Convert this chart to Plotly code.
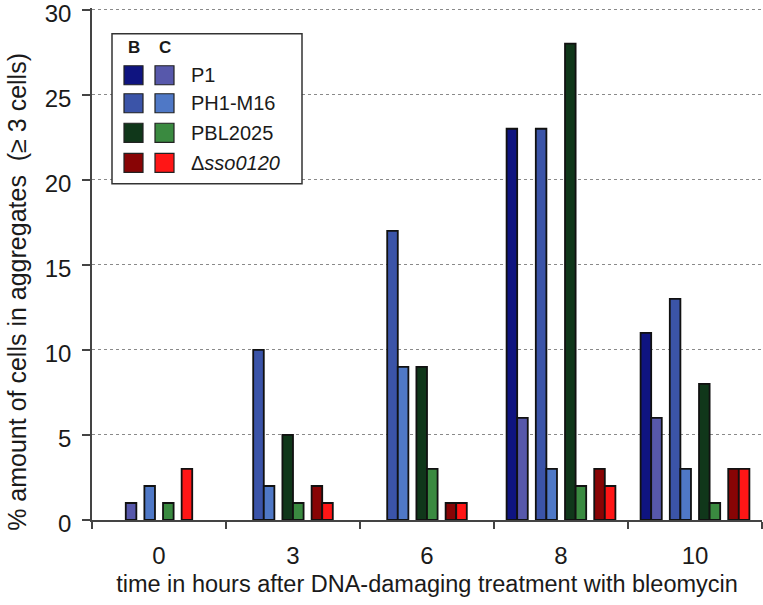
import plotly.graph_objects as go

# ---- data ----
times = ["0", "3", "6", "8", "10"]
strains = ["P1", "PH1-M16", "PBL2025", "Δ<i>sso0120</i>"]

p1_b = [None, None, None, 23, 11]
p1_c = [1, None, None, 6, 6]
ph1_b = [None, 10, 17, 23, 13]
ph1_c = [2, 2, 9, 3, 3]
pbl_b = [None, 5, 9, 28, 8]
pbl_c = [1, 1, 3, 2, 1]
dsso_b = [None, 2, 1, 3, 3]
dsso_c = [3, 1, 1, 2, 3]

y_ticks = [0, 5, 10, 15, 20, 25, 30]

# ---- styling ----
colors = {
    ("P1", "B"): "#0f1480",
    ("P1", "C"): "#5758ab",
    ("PH1-M16", "B"): "#3b54a8",
    ("PH1-M16", "C"): "#4f78c6",
    ("PBL2025", "B"): "#10371a",
    ("PBL2025", "C"): "#3a8a40",
    ("Δ<i>sso0120</i>", "B"): "#880405",
    ("Δ<i>sso0120</i>", "C"): "#ff1616",
}

series = [
    ("P1", "B", p1_b), ("P1", "C", p1_c),
    ("PH1-M16", "B", ph1_b), ("PH1-M16", "C", ph1_c),
    ("PBL2025", "B", pbl_b), ("PBL2025", "C", pbl_c),
    ("Δ<i>sso0120</i>", "B", dsso_b), ("Δ<i>sso0120</i>", "C", dsso_c),
]

W = 0.079   # bar width (category units)
G = 0.060   # gap between strain slots

# offsets: present bars grouped by strain, cluster centred on its category
offsets = {k: [0.0] * len(times) for k in range(len(series))}
for gi in range(len(times)):
    slots = []
    for s in strains:
        idx = [k for k, (st, bc, v) in enumerate(series) if st == s and v[gi] is not None]
        if idx:
            slots.append(idx)
    total = sum(len(sl) for sl in slots) * W + (len(slots) - 1) * G
    pos = -total / 2
    for sl in slots:
        for k in sl:
            offsets[k][gi] = pos
            pos += W
        pos += G

FONT = "Liberation Sans, Arial, sans-serif"
TXT = "#1a1a1a"

FIG_W, FIG_H = 763, 605
YTOP_VAL = 30.0
YMAX = 30.1                      # a little headroom so the 30 gridline is kept
SX0, SY1, SY_TOP = 92, 520, 10   # px: plot left, y=0, y=30
PH = (SY1 - SY_TOP) * YMAX / YTOP_VAL
L, R, B = SX0, 1, FIG_H - SY1
T = FIG_H - B - PH
PW = FIG_W - L - R

fig = go.Figure()
for k, (st, bc, vals) in enumerate(series):
    fig.add_trace(go.Bar(
        x=times, y=vals, width=W, offset=offsets[k],
        marker=dict(color=colors[(st, bc)], line=dict(color="#111111", width=1.8)),
        showlegend=False, name=f"{st} {bc}",
    ))

fig.update_layout(
    width=FIG_W, height=FIG_H,
    margin=dict(l=L, r=R, t=T, b=B, pad=0),
    paper_bgcolor="white", plot_bgcolor="white",
    barmode="overlay",
    font=dict(family=FONT, color=TXT, size=23),
)
fig.update_xaxes(
    type="category", range=[-0.5, 4.5], automargin=False,
    showline=True, linecolor="#444444", linewidth=1.5,
    ticks="outside", tickson="boundaries", ticklen=7, tickwidth=1.5, tickcolor="#444444",
    tickfont=dict(size=24, family=FONT, color=TXT),
    ticklabelstandoff=13,
    showgrid=False,
    title=dict(text="time in hours after DNA-damaging treatment with bleomycin",
               font=dict(size=23.5, family=FONT, color=TXT), standoff=8),
)
fig.update_yaxes(
    range=[0, YMAX], tickvals=y_ticks, automargin=False,
    showline=True, linecolor="#444444", linewidth=1.5,
    ticks="outside", ticklen=8, tickwidth=1.5, tickcolor="#444444",
    tickfont=dict(size=24, family=FONT, color=TXT),
    ticklabelstandoff=6, ticklabelshift=4, ticklabeloverflow="allow",
    showgrid=True, gridcolor="#8a8a8a", gridwidth=1.2, griddash="dot",
    zeroline=False,
)

# ---- helpers: pixel -> paper coords ----
def px(x):
    return (x - SX0) / PW

def py(y):
    return (SY1 - y) / PH

annotations = [dict(xref="paper", yref="paper", x=px(17), y=py(292),
                    text="% amount of cells in aggregates  (≥ 3 cells)", textangle=-90,
                    showarrow=False, xanchor="center", yanchor="middle",
                    font=dict(size=25, family=FONT, color=TXT))]

# ---- manual legend (B / C columns) ----
shapes = [dict(type="rect", xref="paper", yref="paper",
               x0=px(112), x1=px(302), y0=py(184), y1=py(34),
               line=dict(color="#333333", width=1.5), fillcolor="white", layer="above")]
for col, cx in (("B", 134), ("C", 165)):
    annotations.append(dict(xref="paper", yref="paper", x=px(cx), y=py(48),
                            text=f"<b>{col}</b>", showarrow=False, xanchor="center", yanchor="middle",
                            font=dict(size=17, family=FONT, color=TXT)))
row_y = [75.5, 103.5, 133, 163]
for ri, s in enumerate(strains):
    yc = row_y[ri]
    for col, x0 in (("B", 124), ("C", 155)):
        shapes.append(dict(type="rect", xref="paper", yref="paper",
                           x0=px(x0), x1=px(x0 + 19),
                           y0=py(yc + 9.5), y1=py(yc - 9.5),
                           fillcolor=colors[(s, col)], line=dict(color="#222222", width=1.2),
                           layer="above"))
    annotations.append(dict(xref="paper", yref="paper", x=px(189), y=py(yc),
                            text=s, showarrow=False, xanchor="left", yanchor="middle",
                            font=dict(size=20, family=FONT, color=TXT)))
fig.update_layout(shapes=shapes, annotations=annotations)

# remove the default 8px page margin so the figure fills the window exactly
fig.write_html("out.html", config={"displayModeBar": False},
               post_script="document.body.style.margin='0';")
